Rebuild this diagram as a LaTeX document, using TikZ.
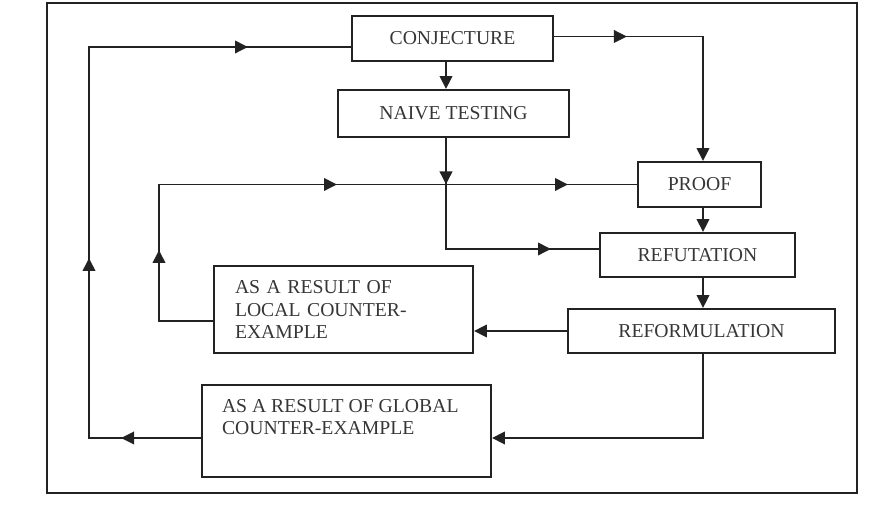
\documentclass[tikz,border=0pt]{standalone}
\usepackage{fontspec}
\setmainfont{Liberation Serif}
\usetikzlibrary{arrows.meta}
\definecolor{inkline}{HTML}{222222}
\definecolor{inktext}{HTML}{363636}
\begin{document}
\begin{tikzpicture}[
    box/.style={draw=inkline, line width=1.1pt, text=inktext,
      font=\fontsize{11.2}{12.8}\selectfont, inner sep=0pt},
    flow/.style={draw=inkline, line width=1.1pt},
    tip/.style={flow, -{Triangle[length=2.6mm,width=2.5mm]}}]
  \useasboundingbox (0,0) rectangle (17.92,10.16);
  \draw[flow] (0.94,0.30) rectangle (17.14,10.10);

  % boxes
  \node[box, minimum width=4.02cm, minimum height=0.90cm] (conj) at (9.05,9.39) {CONJECTURE};
  \node[box, minimum width=4.62cm, minimum height=0.94cm] (naive) at (9.07,7.89) {NAIVE TESTING};
  \node[box, minimum width=2.46cm, minimum height=0.90cm] (proof) at (13.99,6.47) {PROOF};
  \node[box, minimum width=3.90cm, minimum height=0.88cm] (refu) at (13.95,5.06) {REFUTATION};
  \node[box, minimum width=5.34cm, minimum height=0.88cm] (reform) at (14.03,3.54) {REFORMULATION};
  \node[box, minimum width=5.18cm, minimum height=1.74cm, inner xsep=0.42cm,
    text width=4.34cm, align=left] (local) at (6.87,3.97)
    {AS A RESULT OF\\LOCAL COUNTER-\\EXAMPLE};
  \node[box, minimum width=5.78cm, minimum height=1.84cm, inner xsep=0.40cm, inner ysep=0.28cm] (global) at (6.93,1.54)
    {\parbox[c][1.28cm][t]{4.98cm}{AS A RESULT OF GLOBAL\\COUNTER-EXAMPLE}};

  % trunks and loop ends
  \coordinate (rx) at (14.06,0);
  \coordinate (mx) at (8.92,0);
  \coordinate (lx) at (3.18,0);
  \coordinate (gx) at (1.78,0);
  \coordinate (conjout) at ([yshift=0.4mm]conj.east);
  \coordinate (conjin) at ([yshift=-1.7mm]conj.west);
  \coordinate (refuin) at ([yshift=1.2mm]refu.west);
  \coordinate (localout) at ([yshift=-2.3mm]local.west);
  \coordinate (globalin) at ([yshift=-1.4mm]global.east);
  \coordinate (globalout) at ([yshift=-1.4mm]global.west);

  % conjecture to proof
  \draw[tip] (conjout) -| (rx |- proof.north);
  \draw[tip] (conjout) -- ++(1.46,0);
  \draw[tip] (conj.south -| mx) -- (naive.north -| mx);

  % naive testing trunk
  \draw[flow] (naive.south -| mx) |- (refuin);
  \draw[tip] (naive.south -| mx) -- (mx |- proof.west);
  \draw[tip] (mx |- refuin) -- ++(2.10,0);

  % proof, refutation, reformulation
  \draw[tip] (proof.south -| rx) -- (refu.north -| rx);
  \draw[tip] (refu.south -| rx) -- (reform.north -| rx);
  \draw[tip] (reform.west) -- (reform.west -| local.east);
  \draw[tip] (reform.south -| rx) |- (globalin);

  % local loop
  \draw[flow] (localout) -| (lx |- proof.west) -- (proof.west);
  \draw[tip] (localout -| lx) -- ++(0,1.42);
  \draw[tip] (lx |- proof.west) -- ++(3.56,0);
  \draw[tip] (lx |- proof.west) -- ++(8.18,0);

  % global loop
  \draw[flow] (globalout) -| (gx |- conjin) -- (conjin);
  \draw[tip] (globalout) -- ++(-1.60,0);
  \draw[tip] (globalout -| gx) -- ++(0,3.60);
  \draw[tip] (conjin -| gx) -- ++(3.18,0);
\end{tikzpicture}
\end{document}
